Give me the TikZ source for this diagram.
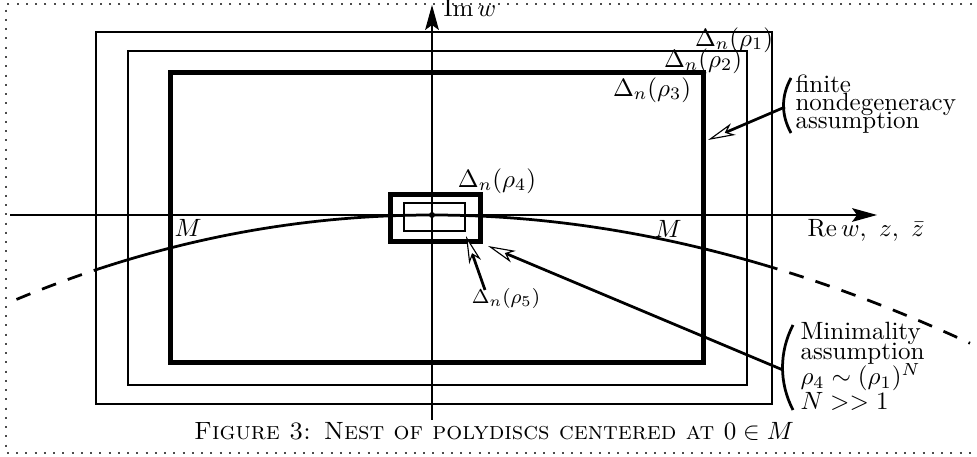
\documentclass[tikz,border=0pt]{standalone}
\usetikzlibrary{arrows.meta}
\begin{document}
\begin{tikzpicture}[x=0.4pt,y=-0.4pt,
  axis/.style={line width=0.45pt,-{Stealth[length=10pt,width=5.5pt,inset=2pt]}},
  thinbox/.style={line width=0.45pt},
  thickbox/.style={line width=2pt},
  curveM/.style={line width=1.1pt},
  pointer/.style={line width=1.1pt,-{Stealth[open,line width=0.45pt,length=11pt,width=5pt,inset=3pt,fill=white]}},
  note/.style={inner sep=0pt,anchor=base west}]
\useasboundingbox (0,0) rectangle (977,457);
\draw[line width=0.7pt,dash pattern=on 0.8pt off 2.9pt,black!70] (990,4) -- (6,4) -- (6,453) -- (990,453);

\coordinate (o) at (432,215);
\coordinate (xl) at (10,215);
\coordinate (xr) at (877,215);
\coordinate (yb) at (432,420);
\coordinate (yt) at (432,5);
\draw[axis] (xl) -- (xr);
\draw[axis] (yb) -- (yt);
\node[note] (imw) at (443,17) {$\mathrm{Im}\,w$};
\node[note] (rew) at (807,237) {$\mathrm{Re}\,w,\ z,\ \bar z$};

% polydiscs
\draw[thinbox] (96,32) rectangle (772,404);
\draw[thinbox] (128,51) rectangle (747,385);
\draw[thickbox] (170,73) rectangle (703,363);
\draw[thickbox] (390,195) rectangle (480,241.5);
\draw[thinbox] (404,203) rectangle (465,231);
\fill (o) circle (3);
\node (d1) at (734,40) {$\Delta_n(\rho_1)$};
\node (d2) at (703,61) {$\Delta_n(\rho_2)$};
\node (d3) at (652,90) {$\Delta_n(\rho_3)$};
\node (d4) at (497,181) {$\Delta_n(\rho_4)$};
\node[font=\footnotesize] (d5) at (506,299) {$\Delta_n(\rho_5)$};

% the curve M
\draw[curveM,domain=-3.24:3.31,samples=60] plot ({432+100*\x},{215+4.69*\x*\x-0.048*\x*\x*\x});
\draw[curveM,dash pattern=on 6pt off 5pt,domain=3.24:4.17,samples=20] plot ({432-100*\x},{215+4.69*\x*\x+0.048*\x*\x*\x});
\draw[curveM,dash pattern=on 6pt off 5pt,domain=3.31:5.38,samples=30] plot ({432+100*\x},{215+4.69*\x*\x-0.048*\x*\x*\x});
\node (ml) at (188,228) {$M$};
\node (mr) at (668,229) {$M$};

% remarks
\foreach \yy/\txt [count=\i] in {93/finite,111/nondegeneracy,129/assumption}
  \node[note] (fin\i) at (795,\yy) {\txt};
\foreach \yy/\txt [count=\i] in {340/Minimality,360/assumption,385/$\rho_4\sim(\rho_1)^N$,410/$N>>1$}
  \node[note] (min\i) at (800,\yy) {\txt};
\coordinate (fa) at (791,78);
\coordinate (fb) at (791,133);
\draw[curveM] (fa) .. controls (781,96) and (781,115) .. (fb);
\coordinate (ma) at (793,325);
\coordinate (mb) at (793,410);
\draw[curveM] (ma) .. controls (779,352) and (779,383) .. (mb);

\coordinate (fs) at (785,107);
\coordinate (ft) at (708,140);
\coordinate (ms) at (783,370);
\coordinate (mt) at (488,246);
\coordinate (ps) at (485,290);
\coordinate (pt) at (466,236);
\draw[pointer] (fs) -- (ft);
\draw[pointer] (ms) -- (mt);
\draw[pointer] (ps) -- (pt);

\node[anchor=base] (cap) at (494,439) {\textsc{Figure 3: Nest of polydiscs centered at $0\in M$}};
\end{tikzpicture}
\end{document}
